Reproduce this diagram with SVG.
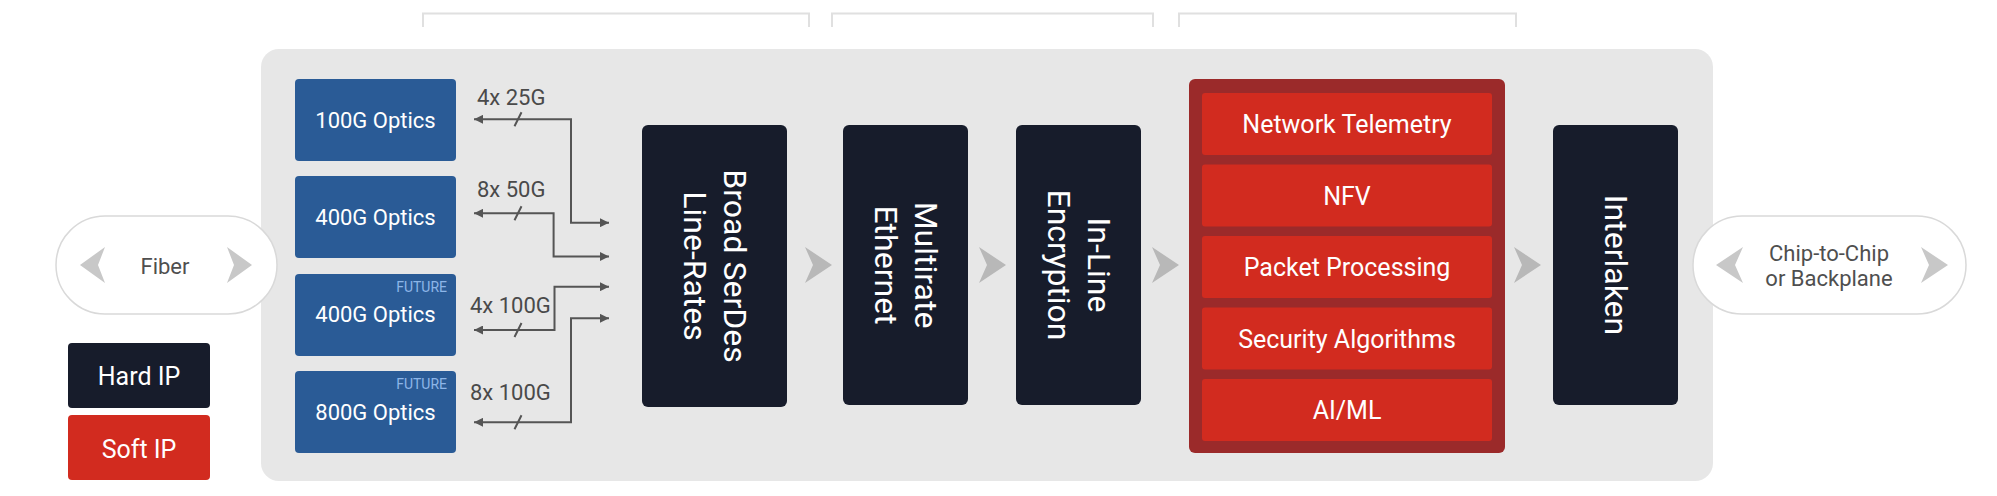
<svg xmlns="http://www.w3.org/2000/svg" width="1997" height="496" viewBox="0 0 1997 496">
<defs>
<style>
.t{font-family:Roboto,"Liberation Sans",sans-serif}
.opt{fill:#2a5b96}
.optt{fill:#ffffff;font-size:22px;text-anchor:middle}
.fut{fill:#8db6e8;font-size:14px;text-anchor:end}
.lbl{fill:#4a4a4a;font-size:22px}
.hard{fill:#171c2b}
.blk{fill:#ffffff;font-size:32px;text-anchor:middle}
.red{fill:#d22b1f}
.redt{fill:#ffffff;font-size:25px;text-anchor:middle}
.conn{fill:none;stroke:#555555;stroke-width:2}
.chev{fill:#b8b8b8}
.pchev{fill:#c8c8c8}
.pill{fill:#ffffff;stroke:#d9d9d9;stroke-width:1.5}
.pillt{fill:#4f4f4f;font-size:22px;text-anchor:middle}
.br{fill:none;stroke:#e0e0e0;stroke-width:2}
</style>
<marker id="ah" viewBox="0 0 10 10" refX="10" refY="5" markerUnits="userSpaceOnUse" markerWidth="10" markerHeight="9" orient="auto-start-reverse">
<path d="M0,0 L10,5 L0,10 z" fill="#555555"/>
</marker>
<path id="chv" d="M0,-18 L27,0 L0,18 L8,0 Z"/>
</defs>
<rect width="1997" height="496" fill="#ffffff"/>
<g id="brackets">
<path class="br" d="M423,27 V13.5 H809 V27"/>
<path class="br" d="M832,27 V13.5 H1153 V27"/>
<path class="br" d="M1179,27 V13.5 H1516 V27"/>
</g>
<g id="panel">
<rect x="261" y="49" width="1452" height="432" rx="18" fill="#e7e7e7"/>
</g>
<g id="fiber">
<rect class="pill" x="56" y="216" width="221" height="98" rx="49"/>
<path class="pchev" d="M105,247 L80,265 L105,283 L98,265 Z"/>
<path class="pchev" d="M227,247 L252,265 L227,283 L234,265 Z"/>
<text class="t pillt" x="165" y="274">Fiber</text>
</g>
<g id="chip">
<rect class="pill" x="1693" y="216" width="273" height="98" rx="49"/>
<path class="pchev" d="M1743,247 L1716,265 L1743,283 L1735,265 Z"/>
<path class="pchev" d="M1921,247 L1948,265 L1921,283 L1929,265 Z"/>
<text class="t pillt" x="1829" y="261">Chip-to-Chip</text>
<text class="t pillt" x="1829" y="286">or Backplane</text>
</g>
<g id="legend-hard">
<rect class="hard" x="68" y="343" width="142" height="65" rx="4"/>
<text class="t" x="139" y="385" fill="#ffffff" font-size="25" text-anchor="middle">Hard IP</text>
</g>
<g id="legend-soft">
<rect class="red" x="68" y="415" width="142" height="65" rx="4"/>
<text class="t" x="139" y="458" fill="#ffffff" font-size="25" text-anchor="middle">Soft IP</text>
</g>
<g id="optics-100g">
<rect class="opt" x="295" y="79" width="161" height="82" rx="4"/>
<text class="t optt" x="375.5" y="128">100G Optics</text>
</g>
<g id="optics-400g">
<rect class="opt" x="295" y="176" width="161" height="82" rx="4"/>
<text class="t optt" x="375.5" y="225">400G Optics</text>
</g>
<g id="optics-400g-future">
<rect class="opt" x="295" y="274" width="161" height="82" rx="4"/>
<text class="t fut" x="447" y="292">FUTURE</text>
<text class="t optt" x="375.5" y="322">400G Optics</text>
</g>
<g id="optics-800g-future">
<rect class="opt" x="295" y="371" width="161" height="82" rx="4"/>
<text class="t fut" x="447" y="389">FUTURE</text>
<text class="t optt" x="375.5" y="420">800G Optics</text>
</g>
<g id="connectors">
<path class="conn" d="M474,119.3 H571 V222.7 H609" marker-start="url(#ah)" marker-end="url(#ah)"/>
<path class="conn" d="M474,213.3 H553.6 V256.5 H609" marker-start="url(#ah)" marker-end="url(#ah)"/>
<path class="conn" d="M474,330 H554.5 V286.7 H609" marker-start="url(#ah)" marker-end="url(#ah)"/>
<path class="conn" d="M474,422.3 H571 V318.3 H609" marker-start="url(#ah)" marker-end="url(#ah)"/>
<path class="conn" d="M514.5,126.3 L521.5,112.3 M514.5,220.3 L521.5,206.3 M514.5,337 L521.5,323 M514.5,429.3 L521.5,415.3"/>
<text class="t lbl" x="477" y="105">4x 25G</text>
<text class="t lbl" x="477" y="197">8x 50G</text>
<text class="t lbl" x="470" y="313">4x 100G</text>
<text class="t lbl" x="470" y="400">8x 100G</text>
<use href="#chv" class="chev" x="805" y="265"/>
<use href="#chv" class="chev" x="979" y="265"/>
<use href="#chv" class="chev" x="1152" y="265"/>
<use href="#chv" class="chev" x="1514" y="265"/>
</g>
<g id="serdes">
<rect class="hard" x="642" y="125" width="145" height="282" rx="6"/>
<text class="t blk" transform="translate(714.5,266) rotate(90)" font-size="33"><tspan x="0" y="-9">Broad SerDes</tspan><tspan x="0" y="31">Line-Rates</tspan></text>
</g>
<g id="multirate">
<rect class="hard" x="843" y="125" width="125" height="280" rx="6"/>
<text class="t blk" transform="translate(905.5,265) rotate(90)"><tspan x="0" y="-9">Multirate</tspan><tspan x="0" y="31">Ethernet</tspan></text>
</g>
<g id="encryption">
<rect class="hard" x="1016" y="125" width="125" height="280" rx="6"/>
<text class="t blk" transform="translate(1078.5,265) rotate(90)"><tspan x="0" y="-9">In-Line</tspan><tspan x="0" y="31">Encryption</tspan></text>
</g>
<g id="softip">
<rect x="1189" y="79" width="316" height="374" rx="6" fill="#9b2a2a"/>
<g id="telemetry">
<rect class="red" x="1202" y="93" width="290" height="62" rx="3"/>
<text class="t redt" x="1347" y="133">Network Telemetry</text>
</g>
<g id="nfv">
<rect class="red" x="1202" y="164.5" width="290" height="62" rx="3"/>
<text class="t redt" x="1347" y="204.5">NFV</text>
</g>
<g id="packet">
<rect class="red" x="1202" y="236" width="290" height="62" rx="3"/>
<text class="t redt" x="1347" y="276">Packet Processing</text>
</g>
<g id="security">
<rect class="red" x="1202" y="307.5" width="290" height="62" rx="3"/>
<text class="t redt" x="1347" y="347.5">Security Algorithms</text>
</g>
<g id="aiml">
<rect class="red" x="1202" y="379" width="290" height="62" rx="3"/>
<text class="t redt" x="1347" y="419">AI/ML</text>
</g>
</g>
<g id="interlaken">
<rect class="hard" x="1553" y="125" width="125" height="280" rx="6"/>
<text class="t blk" transform="translate(1615.5,265) rotate(90)"><tspan x="0" y="11">Interlaken</tspan></text>
</g>
</svg>
